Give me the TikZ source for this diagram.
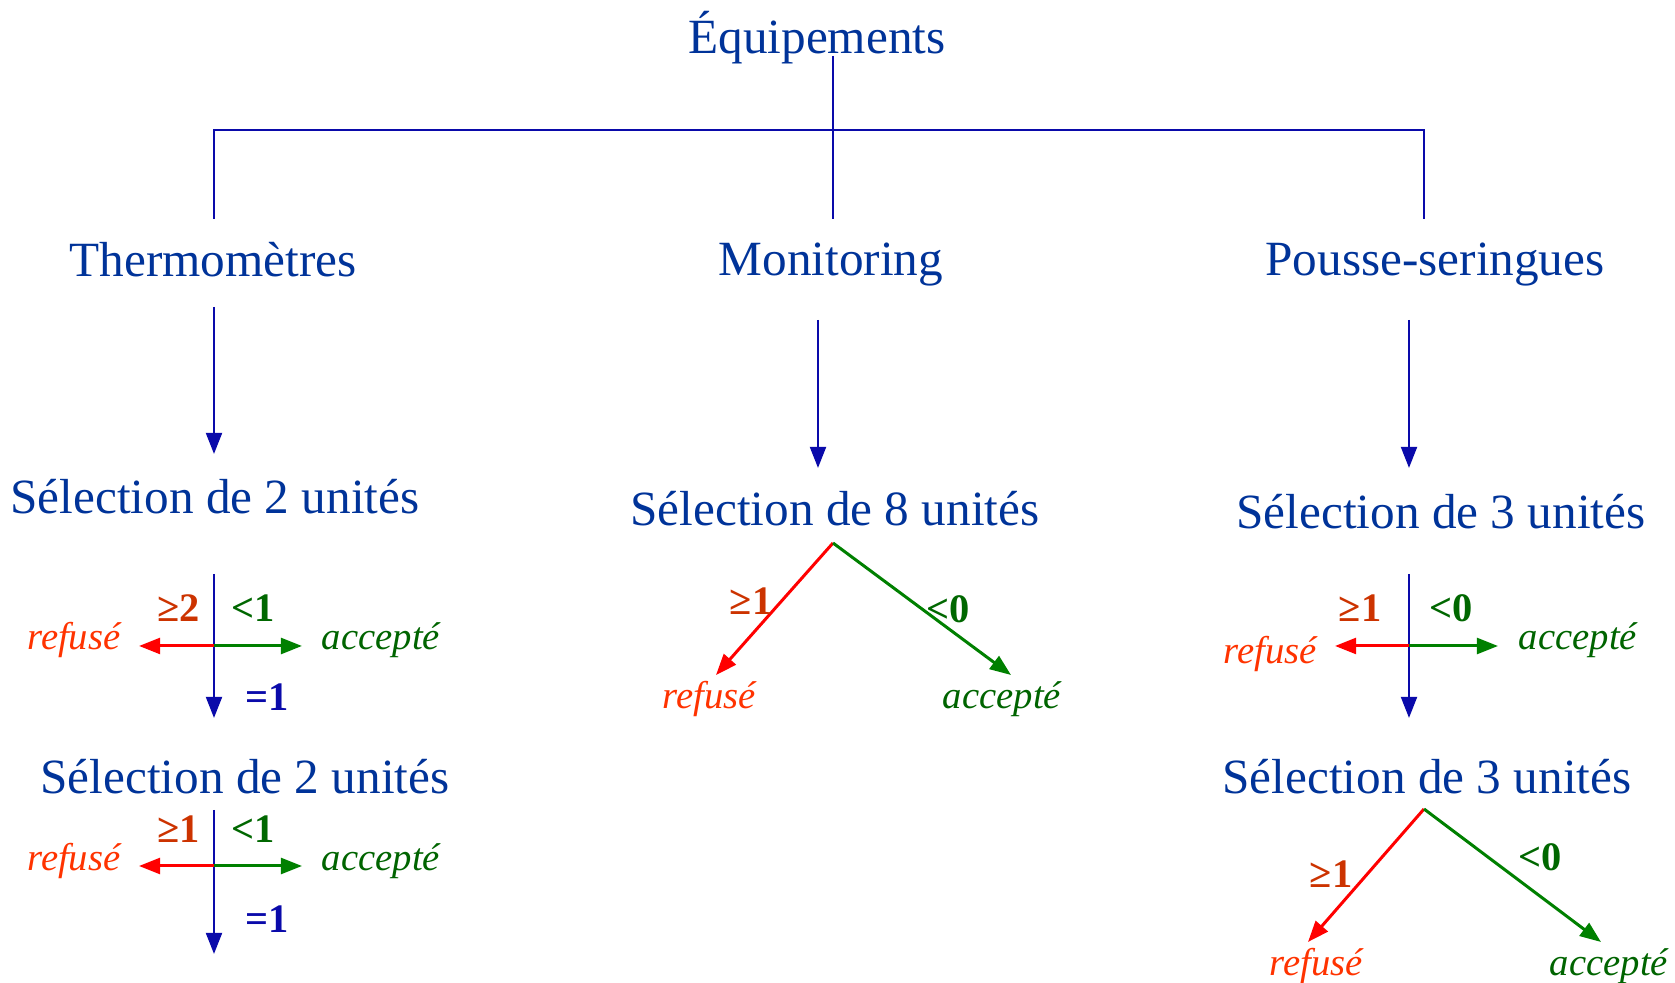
\documentclass[tikz,border=0pt]{standalone}
\usepackage{fontspec}
\setmainfont{Liberation Serif}
\usetikzlibrary{arrows.meta}

\definecolor{titleblue}{RGB}{0,51,153}
\definecolor{lineblue}{RGB}{10,10,170}
\definecolor{refred}{RGB}{255,51,0}
\definecolor{critred}{RGB}{204,51,0}
\definecolor{accgreen}{RGB}{0,100,0}
\definecolor{arrgreen}{RGB}{0,128,0}

\tikzset{
  item/.style={text=titleblue, font=\fontsize{14}{16}\selectfont, inner sep=0pt},
  verdict/.style={font=\fontsize{11}{13}\selectfont\itshape, inner sep=0pt},
  crit/.style={font=\fontsize{11.5}{13}\selectfont\bfseries, inner sep=0pt},
  tree/.style={lineblue, line width=0.75pt},
  down/.style={tree, -{Triangle[length=6pt,width=4.5pt]}},
  rejarrow/.style={red, line width=0.85pt, -{Triangle[length=6pt,width=4.5pt]}},
  accarrow/.style={arrgreen, line width=0.85pt, -{Triangle[length=6pt,width=4.5pt]}},
}

\begin{document}
\begin{tikzpicture}[x=0.01cm, y=-0.01cm]
  \useasboundingbox (0,0) rectangle (1675,983);

  % root and the three families
  \node[item] (equip) at (817,38) {Équipements};
  \node[item] (thermo) at (213,260) {Thermomètres};
  \node[item] (monit) at (831,265) {Monitoring};
  \node[item] (pse) at (1435,265) {Pousse-seringues};

  \coordinate (root) at (833,56);
  \coordinate (rootj) at (833,130);
  \coordinate (lj) at (214,130);
  \coordinate (rj) at (1424,130);
  \coordinate (lft) at (214,219);
  \coordinate (mid) at (833,219);
  \coordinate (rgt) at (1424,219);
  \draw[tree] (root) -- (mid);
  \draw[tree] (lft) -- (lj) -- (rj) -- (rgt);

  % sample sizes
  \node[item] (sel1) at (215,497) {Sélection de 2 unités};
  \node[item] (sel2) at (245,777) {Sélection de 2 unités};
  \node[item] (sel8) at (835,509) {Sélection de 8 unités};
  \node[item] (sel3) at (1441,512) {Sélection de 3 unités};
  \node[item] (sel3b) at (1427,777) {Sélection de 3 unités};

  \coordinate (thermoout) at (214,307);
  \coordinate (sel1in) at (214,454);
  \coordinate (monitout) at (818,320);
  \coordinate (sel8in) at (818,468);
  \coordinate (pseout) at (1409,320);
  \coordinate (sel3in) at (1409,468);
  \draw[down] (thermoout) -- (sel1in);
  \draw[down] (monitout) -- (sel8in);
  \draw[down] (pseout) -- (sel3in);

  % thermometres, first draw
  \coordinate (a1) at (214,646);
  \coordinate (a1t) at (214,574);
  \coordinate (a1b) at (214,718);
  \coordinate (a1l) at (139,646);
  \coordinate (a1r) at (302,646);
  \draw[down] (a1t) -- (a1b);
  \draw[rejarrow] (a1) -- (a1l);
  \draw[accarrow] (a1) -- (a1r);
  \node[crit, critred] (a1ge) at (179,608) {≥2};
  \node[crit, arrgreen!80!black] (a1lt) at (253,608) {<1};
  \node[crit, lineblue] (a1eq) at (267,697) {=1};
  \node[verdict, refred] (a1no) at (74,640) {refusé};
  \node[verdict, accgreen] (a1ok) at (381,640) {accepté};

  % thermometres, second draw
  \coordinate (a2) at (214,866);
  \coordinate (a2t) at (214,810);
  \coordinate (a2b) at (214,954);
  \coordinate (a2l) at (139,866);
  \coordinate (a2r) at (302,866);
  \draw[down] (a2t) -- (a2b);
  \draw[rejarrow] (a2) -- (a2l);
  \draw[accarrow] (a2) -- (a2r);
  \node[crit, critred] (a2ge) at (179,829) {≥1};
  \node[crit, arrgreen!80!black] (a2lt) at (253,829) {<1};
  \node[crit, lineblue] (a2eq) at (267,919) {=1};
  \node[verdict, refred] (a2no) at (74,861) {refusé};
  \node[verdict, accgreen] (a2ok) at (381,861) {accepté};

  % monitoring
  \coordinate (b1) at (833,543);
  \coordinate (b1l) at (716,675);
  \coordinate (b1r) at (1011,675);
  \draw[rejarrow] (b1) -- (b1l);
  \draw[accarrow] (b1) -- (b1r);
  \node[crit, critred] (b1ge) at (751,601) {≥1};
  \node[crit, arrgreen!80!black] (b1lt) at (948,609) {<0};
  \node[verdict, refred] (b1no) at (709,699) {refusé};
  \node[verdict, accgreen] (b1ok) at (1002,699) {accepté};

  % pousse-seringues, first draw
  \coordinate (c1) at (1409,646);
  \coordinate (c1t) at (1409,574);
  \coordinate (c1b) at (1409,718);
  \coordinate (c1l) at (1335,646);
  \coordinate (c1r) at (1498,646);
  \draw[down] (c1t) -- (c1b);
  \draw[rejarrow] (c1) -- (c1l);
  \draw[accarrow] (c1) -- (c1r);
  \node[crit, critred] (c1ge) at (1360,608) {≥1};
  \node[crit, arrgreen!80!black] (c1lt) at (1451,608) {<0};
  \node[verdict, refred] (c1no) at (1270,654) {refusé};
  \node[verdict, accgreen] (c1ok) at (1578,640) {accepté};

  % pousse-seringues, second draw
  \coordinate (c2) at (1424,809);
  \coordinate (c2l) at (1308,942);
  \coordinate (c2r) at (1601,942);
  \draw[rejarrow] (c2) -- (c2l);
  \draw[accarrow] (c2) -- (c2r);
  \node[crit, critred] (c2ge) at (1331,874) {≥1};
  \node[crit, arrgreen!80!black] (c2lt) at (1540,857) {<0};
  \node[verdict, refred] (c2no) at (1316,966) {refusé};
  \node[verdict, accgreen] (c2ok) at (1609,966) {accepté};
\end{tikzpicture}
\end{document}
